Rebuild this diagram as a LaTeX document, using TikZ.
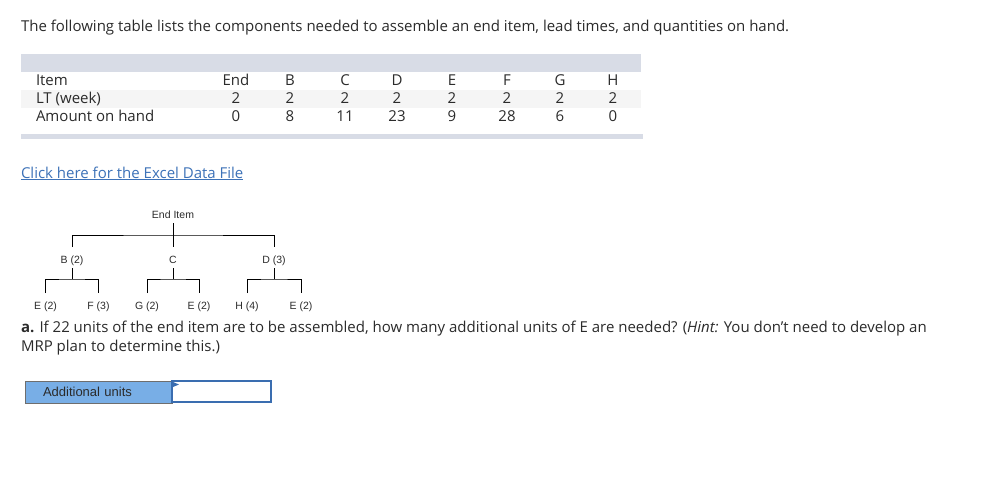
\documentclass[tikz,border=0pt]{standalone}
\usepackage{fontspec}
\setmainfont{Open Sans}
\newfontfamily\treefont{Liberation Sans}
\newfontfamily\boxfont{Liberation Sans}
\definecolor{bandgray}{HTML}{D8DCE6}
\definecolor{rowgray}{HTML}{F5F5F5}
\definecolor{txt}{HTML}{2B2B2B}
\definecolor{linkblue}{HTML}{3D72B8}
\definecolor{boxblue}{HTML}{78AEE6}
\definecolor{boxborder}{HTML}{6E6E6E}
\definecolor{inborder}{HTML}{3A6DB0}
\begin{document}
\begin{tikzpicture}[x=1pt,y=-1pt,
  every node/.style={inner sep=0pt,outer sep=0pt,text=txt},
  body/.style={font=\fontsize{15}{17}\selectfont,anchor=base west},
  cell/.style={font=\fontsize{15}{17}\selectfont,anchor=base},
  leaf/.style={font=\treefont\fontsize{10.5}{12}\selectfont,anchor=base},
  tline/.style={draw=black,line width=0.8pt}]
\useasboundingbox (0,0) rectangle (989,482);
\fill[white] (0,0) rectangle (989,482);
% title
\node[body] (title) at (21,31) {The following table lists the components needed to assemble an end item, lead times, and quantities on hand.};
% table bands
\fill[bandgray] (21,54) rectangle (641,72);
\fill[rowgray] (21,90) rectangle (641,108);
\fill[bandgray] (21,134) rectangle (643,139);
% row headers
\node[body] (hItem) at (36,85) {Item};
\node[body] (hLT) at (36,103) {LT (week)};
\node[body] (hAmt) at (36,121) {Amount on hand};
% columns
\foreach \nm/\xx/\lt/\am in {End/236/2/0,B/290/2/8,C/345/2/11,D/397/2/23,E/452/2/9,F/507/2/28,G/560/2/6,H/613/2/0}{
  \node[cell] (c\nm) at (\xx,85) {\nm};
  \node[cell] (l\nm) at (\xx,103) {\lt};
  \node[cell] (a\nm) at (\xx,121) {\am};
}
% link
\node[body,text=linkblue] (link) at (21,178) {\underline{Click here for the Excel Data File}};
% tree
\node[leaf] (end) at (173,218) {End Item};
\node[leaf] (B) at (72,263) {B (2)};
\node[leaf] (C) at (173,263) {C};
\node[leaf] (D) at (274,263) {D (3)};
\node[leaf] (E1) at (45.5,309) {E (2)};
\node[leaf] (F) at (98.5,309) {F (3)};
\node[leaf] (G) at (147,309) {G (2)};
\node[leaf] (E2) at (199,309) {E (2)};
\node[leaf] (H) at (247,309) {H (4)};
\node[leaf] (E3) at (301,309) {E (2)};
\coordinate (h0) at (173,235);
\draw[tline] (end.south |- 0,223) -- (h0);
\draw[tline] (B.north |- 0,247) |- (h0) -| (D.north |- 0,247);
\draw[tline] (h0) -- (C.north |- 0,247);
\foreach \p/\l/\r in {B/E1/F,C/G/E2,D/H/E3}{
  \draw[tline] (\p.south |- 0,268) -- (\p.south |- 0,279) coordinate (j\p);
  \draw[tline] (\l.north |- 0,293) |- (j\p) -| (\r.north |- 0,293);
}
% question
\node[body] (q1) at (21,332) {\textbf{a.} If 22 units of the end item are to be assembled, how many additional units of E are needed? (\textit{Hint:} You don't need to develop an};
\node[body] (q2) at (21,351) {MRP plan to determine this.)};
% answer boxes
\node[draw=boxborder,fill=boxblue,line width=1pt,minimum width=147pt,minimum height=22pt,anchor=north west,
  font=\boxfont\fontsize{13}{15}\selectfont,text=txt,align=left,text width=111pt,inner xsep=18pt] (lab) at (25,381) {Additional units};
\node[draw=inborder,fill=white,line width=1.2pt,minimum width=99pt,minimum height=21pt,anchor=north west] (inp) at (172,381) {};
\fill[inborder] (inp.north west) ++(1,1) -- ++(6,2.5) -- ++(-6,2.5) -- cycle;
\end{tikzpicture}
\end{document}
